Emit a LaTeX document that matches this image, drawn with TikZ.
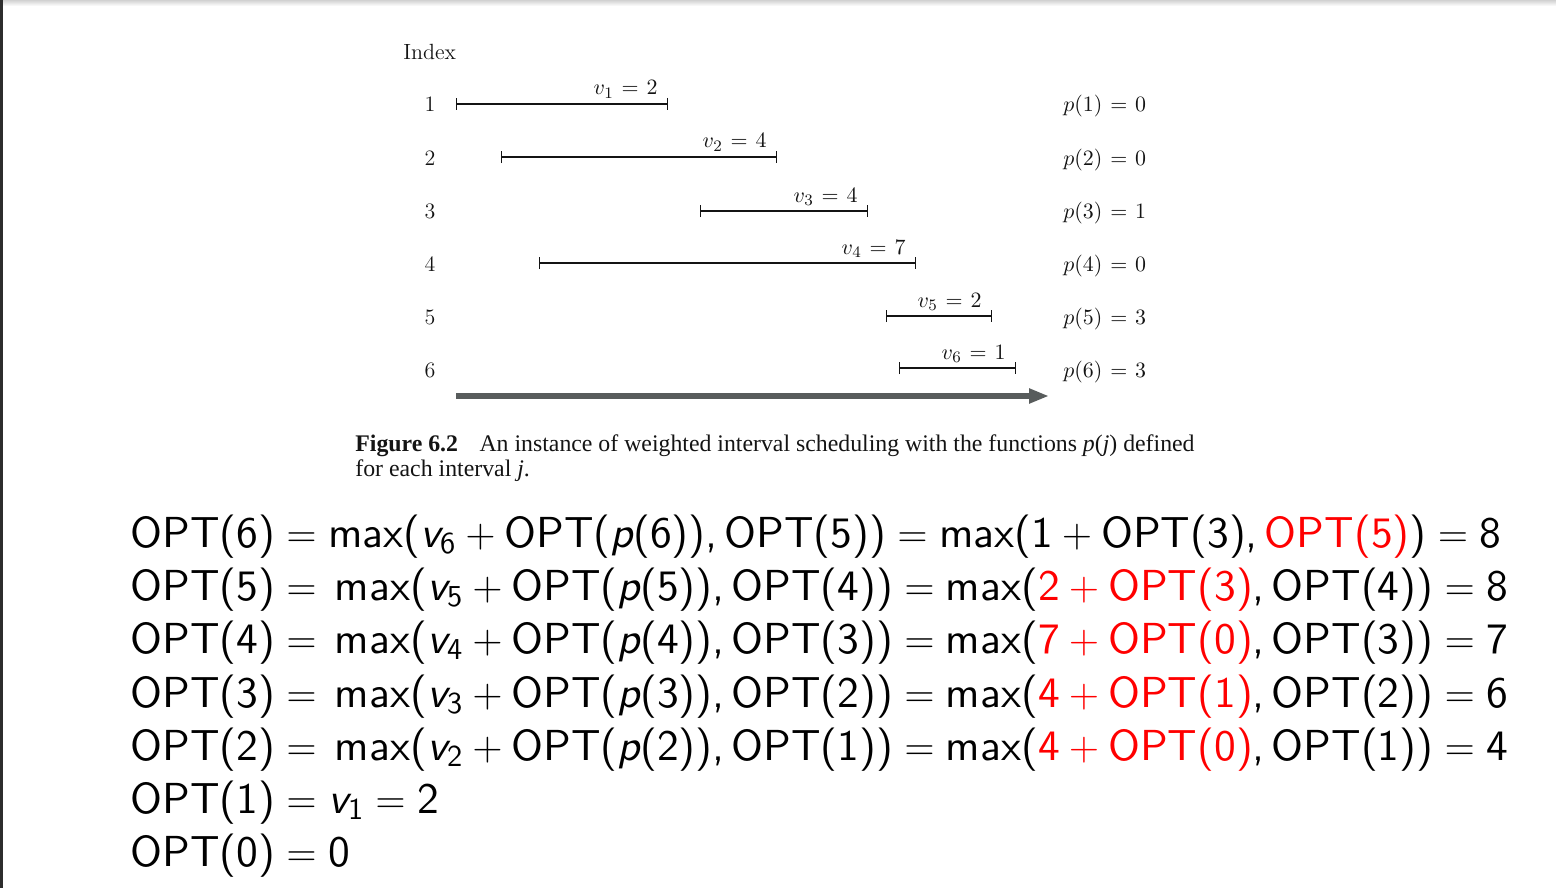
\documentclass[tikz,border=0pt]{standalone}
\usepackage{amsmath}
\usepackage{fontspec}
\usetikzlibrary{arrows.meta}
\setsansfont{lmsans10-regular.otf}[ItalicFont=lmsans10-oblique.otf,BoldFont=lmsans10-bold.otf]
\newfontfamily\capfont{Liberation Serif}
\definecolor{arrowgray}{RGB}{88,92,92}
\definecolor{barcol}{RGB}{45,45,45}
\definecolor{ink}{RGB}{20,20,20}
\newcommand\T[1]{\textsf{#1}}
\newcommand\vi[1]{\textsf{\itshape v}_{\textsf{#1}}}
\newcommand\pp{\textsf{\itshape p}}
\newcommand\R[1]{\textcolor{red}{#1}}
\newcommand\EQ{\mkern6.5mu{=}\mkern6.5mu}
\begin{document}
\begin{tikzpicture}[x=0.5pt,y=-0.5pt,
  lab/.style={inner sep=0pt,font=\fontsize{11}{13}\selectfont,text=ink},
  ival/.style={draw=ink,line width=0.65pt,{Bar[width=6pt]}-{Bar[width=6pt]}},
  vlab/.style={lab,anchor=base east},
  plab/.style={lab,anchor=base west},
  eq/.style={inner sep=0pt,anchor=base west,font=\fontsize{21.7}{26}\selectfont},
  captext/.style={inner sep=0pt,anchor=base west,font=\capfont\fontsize{11.9}{14}\selectfont,text=ink}]
\useasboundingbox (0,0) rectangle (1556,888);
\fill[white] (0,0) rectangle (1556,888);
\shade[top color=black!18,bottom color=white] (0,0) rectangle (1556,6);
\fill[barcol] (0,0) rectangle (3,888);
% diagram
\node[lab,anchor=base west] (index) at (403,60) {Index};
\foreach \i/\y in {1/105,2/158,3/211,4/264,5/317,6/370}{
  \node[lab,anchor=base] (n\i) at (430,\y+7) {\i};
}
\coordinate (a1) at (456,104); \coordinate (b1) at (668,104);
\coordinate (a2) at (501,157); \coordinate (b2) at (777,157);
\coordinate (a3) at (700,211); \coordinate (b3) at (868,211);
\coordinate (a4) at (539,263); \coordinate (b4) at (916,263);
\coordinate (a5) at (886,316); \coordinate (b5) at (992,316);
\coordinate (a6) at (899,368); \coordinate (b6) at (1016,368);
\foreach \i/\v in {1/2,2/4,3/4,4/7,5/2,6/1}{
  \draw[ival] (a\i) -- (b\i);
  \node[vlab] (v\i) at ([xshift=-5pt,yshift=4.5pt]b\i) {$v_\i\EQ\v$};
}
\foreach \i/\y/\p in {1/105/0,2/158/0,3/211/1,4/264/0,5/317/3,6/370/3}{
  \node[plab] (p\i) at (1063,\y+7) {$p(\i)\EQ\p$};
}
\coordinate (ax0) at (456,396);
\coordinate (ax1) at (1049,396);
\draw[arrowgray,line width=2.6pt,-{Triangle[length=10pt,width=7pt]}] (ax0) -- (ax1);
% caption
\node[captext] (cap1) at (355,451) {\textbf{Figure 6.2}\hspace{0.9em}An instance of weighted interval scheduling with the functions \textit{p}(\textit{j}) defined};
\node[captext] (cap2) at (355,476) {for each interval \textit{j}.};
% equations
\node[eq] (e1) at (130,547) {$\T{OPT(6)} = \T{max(}\vi{6} + \T{OPT(}\pp\T{(6))}\T{,}\,\T{OPT(5))} = \T{max(1} + \T{OPT(3)}\T{,}\,\R{\T{OPT(5)}}\T{)} = \T{8}$};
\node[eq] (e2) at (130,600) {$\T{OPT(5)} = \mkern3mu\T{max(}\vi{5} + \T{OPT(}\pp\T{(5))}\T{,}\,\T{OPT(4))} = \T{max(}\R{\T{2} + \T{OPT(3)}}\T{,}\,\T{OPT(4))} = \T{8}$};
\node[eq] (e3) at (130,653) {$\T{OPT(4)} = \mkern3mu\T{max(}\vi{4} + \T{OPT(}\pp\T{(4))}\T{,}\,\T{OPT(3))} = \T{max(}\R{\T{7} + \T{OPT(0)}}\T{,}\,\T{OPT(3))} = \T{7}$};
\node[eq] (e4) at (130,707) {$\T{OPT(3)} = \mkern3mu\T{max(}\vi{3} + \T{OPT(}\pp\T{(3))}\T{,}\,\T{OPT(2))} = \T{max(}\R{\T{4} + \T{OPT(1)}}\T{,}\,\T{OPT(2))} = \T{6}$};
\node[eq] (e5) at (130,760) {$\T{OPT(2)} = \mkern3mu\T{max(}\vi{2} + \T{OPT(}\pp\T{(2))}\T{,}\,\T{OPT(1))} = \T{max(}\R{\T{4} + \T{OPT(0)}}\T{,}\,\T{OPT(1))} = \T{4}$};
\node[eq] (e6) at (130,813) {$\T{OPT(1)} = \vi{1} = \T{2}$};
\node[eq] (e7) at (130,866) {$\T{OPT(0)} = \T{0}$};
\end{tikzpicture}
\end{document}
